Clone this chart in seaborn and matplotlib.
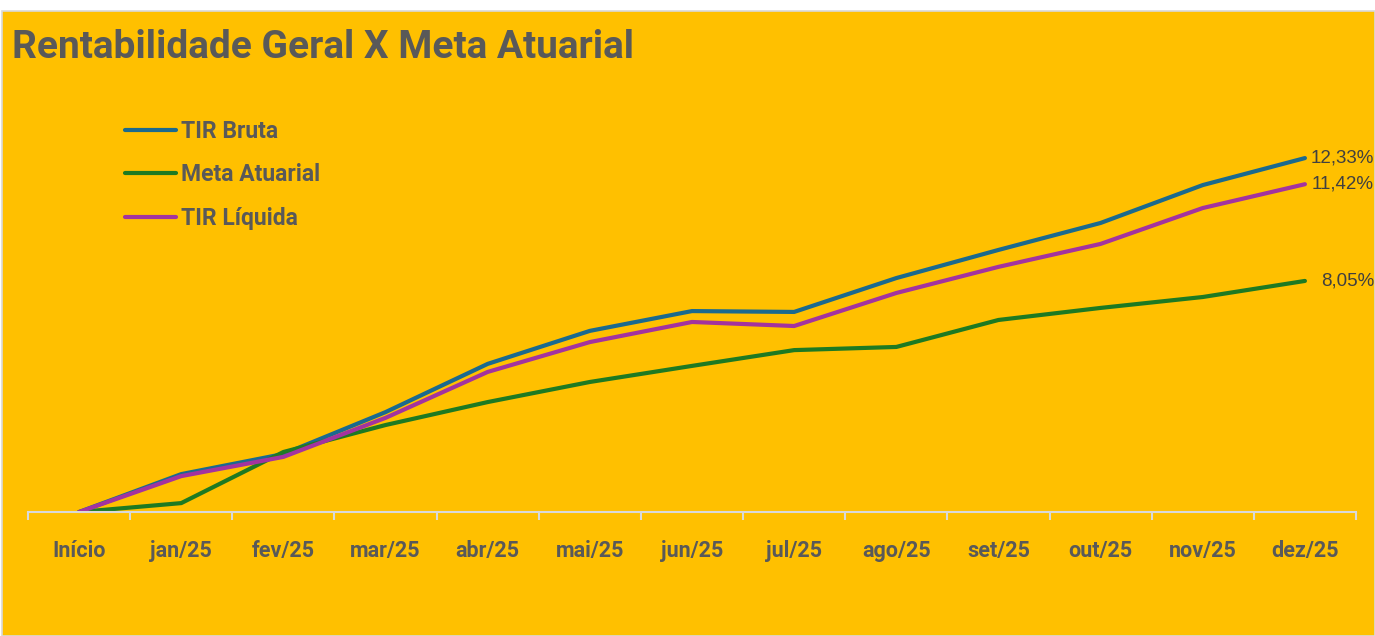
import pandas as pd
import matplotlib.pyplot as plt
import matplotlib.patches as mpatches
import matplotlib.transforms as mtransforms
import seaborn as sns

# dados (% acumulado)
meses = ['Início', 'jan/25', 'fev/25', 'mar/25', 'abr/25', 'mai/25', 'jun/25',
         'jul/25', 'ago/25', 'set/25', 'out/25', 'nov/25', 'dez/25']
tir_bruta = [0.00, 1.32, 2.02, 3.48, 5.16, 6.31, 7.00, 6.97, 8.15, 9.13, 10.07, 11.39, 12.33]
meta_atuarial = [0.00, 0.31, 2.09, 3.03, 3.83, 4.53, 5.09, 5.64, 5.75, 6.69, 7.11, 7.49, 8.05]
tir_liquida = [0.00, 1.25, 1.92, 3.28, 4.88, 5.92, 6.62, 6.48, 7.63, 8.54, 9.34, 10.59, 11.42]
series = ['TIR Bruta', 'Meta Atuarial', 'TIR Líquida']
end_labels = ['12,33%', '8,05%', '11,42%']

BG = '#FFC000'
TXT = '#595959'
cores = {'TIR Bruta': '#1B6A8E', 'Meta Atuarial': '#1E7A22', 'TIR Líquida': '#A3339F'}

df = pd.DataFrame({'mes': meses, 'TIR Bruta': tir_bruta,
                   'Meta Atuarial': meta_atuarial, 'TIR Líquida': tir_liquida})
long_df = df.melt(id_vars='mes', value_vars=series, var_name='serie', value_name='valor')

sns.set_style('white')
plt.rcParams['font.family'] = ['Roboto', 'DejaVu Sans']

fig = plt.figure(figsize=(13.75, 6.36), dpi=100, facecolor='white')
# fundo amarelo com borda cinza
fig.patches.append(mpatches.Rectangle((0.0015, 0.0), 0.9985, 1 - 11 / 636,
                                      transform=fig.transFigure, facecolor=BG,
                                      edgecolor='#D9D9D9', linewidth=1.2, zorder=-10))

ax = fig.add_axes([28 / 1375, 1 - 512 / 636, (1356 - 28) / 1375, (512 - 124.5) / 636])
ax.set_facecolor('none')
ax.set_zorder(5)

sns.lineplot(data=long_df, x='mes', y='valor', hue='serie', palette=cores,
             sort=False, linewidth=3.0, ax=ax, legend=True)
for line in ax.get_lines():
    line.set_solid_capstyle('round')
    line.set_solid_joinstyle('round')

ax.set_xlim(-0.5, len(meses) - 0.5)
ax.set_ylim(0, 13.5)
ax.set_xlabel('')
ax.set_ylabel('')
ax.set_yticks([])
for s in ['top', 'right', 'left']:
    ax.spines[s].set_visible(False)
ax.spines['bottom'].set_color('#D9D9D9')
ax.spines['bottom'].set_linewidth(1.5)

ax.set_xticks(range(len(meses)))
ax.set_xticklabels(meses, fontsize=15.5, fontweight='bold', color=TXT)
ax.set_xticks([i - 0.5 for i in range(len(meses) + 1)], minor=True)
ax.tick_params(axis='x', which='major', bottom=True, length=0, pad=20)
ax.tick_params(axis='x', which='minor', bottom=True, length=6, width=1.5,
               color='#D9D9D9', direction='out')

# rotulos finais
trans = mtransforms.blended_transform_factory(fig.transFigure, ax.transData)
finais = [tir_bruta[-1], meta_atuarial[-1], tir_liquida[-1]]
for val, lab in zip(finais, end_labels):
    ax.text(1374 / 1375, val, lab, transform=trans, ha='right', va='center',
            fontsize=13.5, color='#404040', family=['Liberation Sans', 'DejaVu Sans'],
            clip_on=False)

# legenda
handles, labels = ax.get_legend_handles_labels()
leg = ax.legend(handles, labels, loc='upper left', bbox_to_anchor=(104 / 1375, 1 - 99 / 636),
                bbox_transform=fig.transFigure, frameon=False, handlelength=2.25,
                handletextpad=0.2, labelspacing=0.9, prop={'size': 16.5, 'weight': 'bold'})
for t in leg.get_texts():
    t.set_color(TXT)
for h in leg.get_lines():
    h.set_linewidth(3.0)
    h.set_solid_capstyle('round')

fig.text(12 / 1375, 1 - 47 / 636, 'Rentabilidade Geral X Meta Atuarial', fontsize=28,
         fontweight='bold', color=TXT, ha='left', va='center')

fig.savefig('out.png', dpi=100, facecolor=fig.get_facecolor())
